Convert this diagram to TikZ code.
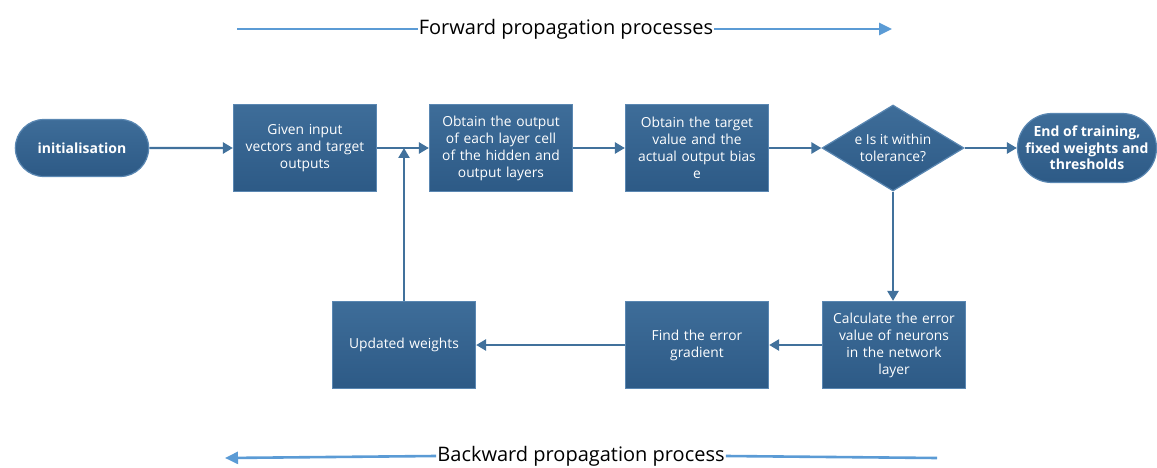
\documentclass[tikz,border=0pt]{standalone}
\usepackage{fontspec}
\setmainfont{Open Sans}
\definecolor{boxtop}{HTML}{3E6D99}
\definecolor{boxbottom}{HTML}{2D5A86}
\definecolor{edgeblue}{HTML}{5A87B2}
\definecolor{linkblue}{HTML}{41719C}
\definecolor{guideblue}{HTML}{5B9BD5}
\usetikzlibrary{positioning, shapes.geometric, shapes.misc, arrows.meta}

\begin{document}
\begin{tikzpicture}[x=1pt, y=-1pt,
  stepbox/.style={draw=edgeblue, top color=boxtop, bottom color=boxbottom,
               line width=1.2pt, text=white,
               minimum width=143pt, minimum height=87pt, text width=140pt,
               align=center, font=\fontsize{13.8}{17}\selectfont, inner sep=1pt},
  term/.style={draw=edgeblue, top color=boxtop, bottom color=boxbottom,
               line width=1.2pt, text=white,
               rounded rectangle, minimum width=140pt, align=center,
               font=\fontsize{14}{16.5}\selectfont\bfseries},
  decide/.style={draw=edgeblue, top color=boxtop, bottom color=boxbottom,
               line width=1.2pt, text=white,
               diamond, aspect=1.65, minimum width=142pt, minimum height=86pt,
               inner sep=0pt, align=center, font=\fontsize{13.8}{17}\selectfont},
  flow/.style={draw=linkblue, line width=2.4pt, -{Triangle[length=10pt,width=11pt]}},
  guide/.style={draw=guideblue, line width=2.6pt, -{Triangle[length=13pt,width=12pt]}}
]
\useasboundingbox (0,0) rectangle (1157,468);

% top row
\node[term, minimum height=57pt] (init) at (82,148) {initialisation};
\node[stepbox] (given) at (305,148) {Given input\\vectors and target\\outputs};
\node[stepbox] (hidden) at (501,148) {Obtain the output\\of each layer cell\\of the hidden and\\output layers};
\node[stepbox] (bias) at (697,148) {Obtain the target\\value and the\\actual output bias\\e};
\node[decide] (check) at (893,148) {e Is it within\\tolerance?};
\node[term, minimum height=69pt, minimum width=139pt, inner sep=0pt] (done) at (1087,148) {End of training,\\fixed weights and\\thresholds};

% bottom row
\node[stepbox] (calc) at (894,345) {Calculate the error\\value of neurons\\in the network\\layer};
\node[stepbox] (grad) at (697,345) {Find the error\\gradient};
\node[stepbox] (upd) at (404,345) {Updated weights};

% connectors
\draw[flow] (init) -- (given);
\draw[flow] (given) -- (hidden);
\draw[flow] (hidden) -- (bias);
\draw[flow] (bias) -- (check);
\draw[flow] (check) -- (done);
\draw[flow] (check.south) -- (calc.north -| check.south);
\draw[flow] (calc) -- (grad);
\draw[flow] (grad) -- (upd);
\coordinate (back) at (upd.north |- given.east);
\draw[flow] (upd.north) -- (back);

% propagation guides
\node[font=\fontsize{20}{24}\selectfont, inner sep=1pt] (fwd) at (566,29) {Forward propagation processes};
\coordinate (fwdL) at (237,29);
\coordinate (fwdR) at (892,29);
\draw[guide, -] (fwdL) -- (fwd.west);
\draw[guide] (fwd.east) -- (fwdR);

\node[font=\fontsize{20}{24}\selectfont, inner sep=1pt] (bwd) at (581,456) {Backward propagation process};
\coordinate (bwdL) at (225,458);
\coordinate (bwdR) at (937,458);
\draw[guide, -] (bwdR) -- (bwd.east);
\draw[guide] (bwd.west) -- (bwdL);
\end{tikzpicture}
\end{document}
